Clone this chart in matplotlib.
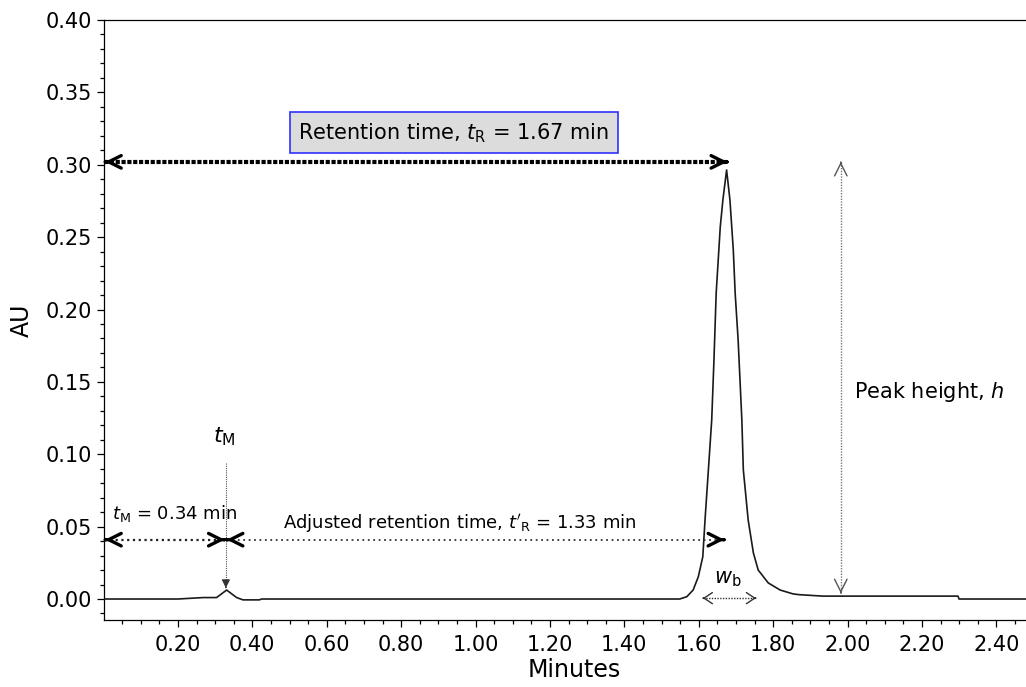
import matplotlib
matplotlib.use("Agg")
import matplotlib.pyplot as plt

# chromatogram trace (minutes, AU)
minutes = [0.00, 0.20, 0.268, 0.304, 0.331, 0.358, 0.375, 0.419, 0.425,
           1.549, 1.568, 1.585, 1.599, 1.611, 1.617, 1.626, 1.635, 1.641,
           1.647, 1.658, 1.665, 1.675, 1.684, 1.693, 1.698, 1.706, 1.711,
           1.716, 1.720, 1.733, 1.747, 1.760, 1.787, 1.819, 1.854, 1.87,
           1.934, 2.297, 2.300, 2.53]
au = [0.0, 0.0, 0.001, 0.001, 0.0062, 0.001, -0.0006, -0.0006, 0.0,
      0.0, 0.0016, 0.0062, 0.0154, 0.0292, 0.0546, 0.0891, 0.1237, 0.165,
      0.2114, 0.2572, 0.2756, 0.2964, 0.2756, 0.2411, 0.2114, 0.1789, 0.1513,
      0.1237, 0.0891, 0.0546, 0.0318, 0.0200, 0.0111, 0.0062, 0.0035, 0.003,
      0.002, 0.002, 0.0, 0.0]

t_m = 0.329        # dead time peak
t_r = 1.677        # retention time peak
peak_h = 0.302     # apex level used for the arrows
wb_left, wb_right = 1.611, 1.754
h_x = 1.982

xticks = [0.20, 0.40, 0.60, 0.80, 1.00, 1.20, 1.40, 1.60, 1.80, 2.00, 2.20, 2.40]
yticks = [0.00, 0.05, 0.10, 0.15, 0.20, 0.25, 0.30, 0.35, 0.40]

fig = plt.figure(figsize=(10.26, 6.87), dpi=100)
ax = fig.add_axes([103.5 / 1026, 67 / 687, 2.53 * 372 / 1026, 600 / 687])

ax.plot(minutes, au, color="#1a1a1a", lw=1.2, zorder=3)

ax.set_xlim(0, 2.53)
ax.set_ylim(-0.0145, 0.40)
ax.set_xticks(xticks)
ax.set_xticklabels([f"{v:.2f}" for v in xticks])
ax.set_xticks([i * 0.05 for i in range(1, 51)], minor=True)
ax.set_yticks(yticks)
ax.set_yticklabels([f"{v:.2f}" for v in yticks])
ax.set_yticks([i * 0.01 for i in range(-1, 41)], minor=True)
ax.tick_params(which="major", length=5, width=0.9, labelsize=15, direction="out")
ax.tick_params(which="minor", length=2.7, width=0.9, direction="out")
ax.tick_params(axis="x", pad=6)
ax.spines["right"].set_visible(False)
for s in ["left", "bottom", "top"]:
    ax.spines[s].set_linewidth(0.9)
ax.set_xlabel("Minutes", fontsize=17, labelpad=2)
ax.set_ylabel("AU", fontsize=17, labelpad=8)


def dline(x0, y0, x1, y1, lw, dash, color):
    ax.plot([x0, x1], [y0, y1], color=color, lw=lw, linestyle=(0, dash),
            dash_capstyle="butt", zorder=4)


def head(x, y, dx, dy, lw, color, hl, hw, style="->"):
    ax.annotate("", xy=(x, y), xytext=(-dx, -dy), textcoords="offset points",
                arrowprops=dict(arrowstyle=f"{style},head_length={hl},head_width={hw}",
                                lw=lw, color=color, shrinkA=0, shrinkB=0,
                                mutation_scale=10), zorder=5)


# retention time arrow
dline(0, peak_h, t_r - 0.004, peak_h, 3.0, (1.0, 0.4), "black")
head(0.004, peak_h, -0.5, 0, 2.4, "black", 0.9, 0.45)
head(t_r, peak_h, 0.5, 0, 2.4, "black", 0.9, 0.45)
ax.text(0.942, 0.3221, "Retention time, $t_\\mathregular{R}$ = 1.67 min",
        fontsize=15, ha="center", va="center",
        bbox=dict(boxstyle="square,pad=0.42", fc="#dcdcdc", ec="#3030ff", lw=1.2))

# peak height arrow
dline(h_x, peak_h, h_x, 0.004, 1.0, (1, 1), "#777777")
head(h_x, peak_h, 0, 0.5, 1.0, "#555555", 0.9, 0.45)
head(h_x, 0.004, 0, -0.5, 1.0, "#555555", 0.9, 0.45)
ax.text(2.017, 0.1432, "Peak height, $h$", fontsize=15, ha="left", va="center")

# dead time marker
ax.text(t_m - 0.003, 0.112, "$t_\\mathregular{M}$", fontsize=16, ha="center", va="center")
dline(t_m, 0.094, t_m, 0.010, 0.8, (1, 1), "#555555")
head(t_m, 0.0076, 0, -0.5, 0.8, "#333333", 0.5, 0.25, style="-|>")

# t_M and adjusted retention arrows
y_arr = 0.0410
dline(0, y_arr, t_m - 0.003, y_arr, 1.6, (1, 1.6), "#222222")
head(0.004, y_arr, -0.5, 0, 2.4, "black", 0.9, 0.45)
head(t_m - 0.003, y_arr, 0.5, 0, 2.4, "black", 0.9, 0.45)
dline(t_m + 0.002, y_arr, t_r - 0.008, y_arr, 1.3, (1, 2.0), "#333333")
head(t_m + 0.002, y_arr, -0.5, 0, 2.4, "black", 0.9, 0.45)
head(t_r - 0.008, y_arr, 0.5, 0, 2.4, "black", 0.9, 0.45)
ax.text(0.022, 0.0553, "$t_\\mathregular{M}$ = 0.34 min", fontsize=13, ha="left", va="baseline")
ax.text(0.483, 0.049, "Adjusted retention time, $t'_\\mathregular{R}$ = 1.33 min",
        fontsize=13, ha="left", va="baseline")

# peak width at base
dline(wb_left, 0.0006, wb_right, 0.0006, 1.0, (1, 1), "#333333")
head(wb_left, 0.0006, -0.5, 0, 1.0, "#333333", 0.6, 0.4)
head(wb_right, 0.0006, 0.5, 0, 1.0, "#333333", 0.6, 0.4)
ax.text(1.677, 0.0108, "$w_\\mathregular{b}$", fontsize=15, ha="center", va="baseline")

fig.savefig("out.png", dpi=100)
